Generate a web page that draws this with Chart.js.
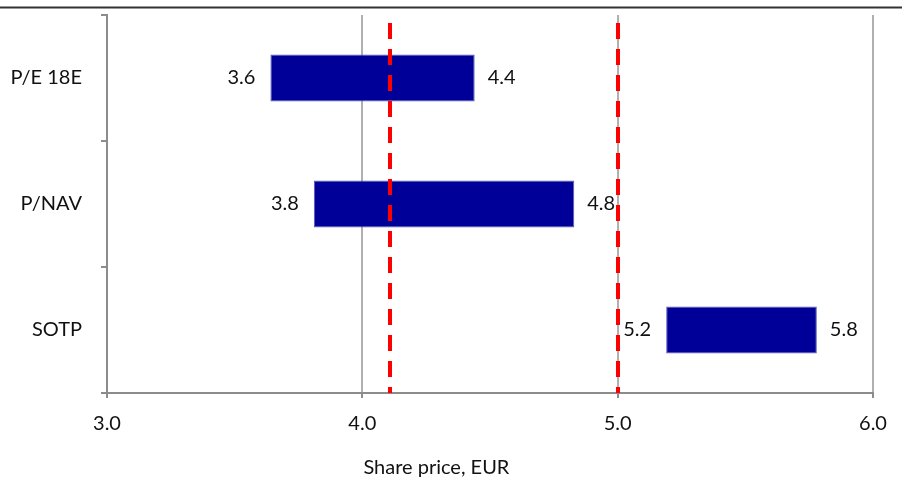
<!DOCTYPE html>
<html>
<head>
<meta charset="utf-8">
<script src="https://cdn.jsdelivr.net/npm/chart.js@4/dist/chart.umd.min.js"></script>
<style>
  html, body { margin: 0; padding: 0; background: #fff; }
  #wrap { width: 902px; height: 480px; position: relative; }
</style>
</head>
<body>
<div id="wrap"><canvas id="c" width="902" height="480"></canvas></div>
<script>
// ---- data ----
const categories = ["P/E 18E", "P/NAV", "SOTP"];
const lowValues  = [3.64, 3.81, 5.19];
const highValues = [4.44, 4.83, 5.78];
const refLines   = [4.11, 5.0];
const xTicks     = [3.0, 4.0, 5.0, 6.0];

const FONT = "Lato, 'Open Sans', sans-serif";
const TEXT = "#111111";

const ranges = categories.map((c, i) => [lowValues[i], highValues[i]]);

const topLinePlugin = {
  id: 'topLine',
  beforeDraw(chart) {
    const ctx = chart.ctx;
    ctx.save();
    ctx.strokeStyle = '#333333';
    ctx.lineWidth = 2;
    ctx.beginPath();
    ctx.moveTo(0, 7.5);
    ctx.lineTo(chart.width, 7.5);
    ctx.stroke();
    ctx.restore();
  }
};

const refLinePlugin = {
  id: 'refLines',
  afterDatasetsDraw(chart) {
    const ctx = chart.ctx, x = chart.scales.x, a = chart.chartArea;
    ctx.save();
    ctx.strokeStyle = '#ff0000';
    ctx.lineWidth = 4;
    ctx.setLineDash([16, 10]);
    refLines.forEach(v => {
      const px = Math.round(x.getPixelForValue(v));
      ctx.beginPath();
      ctx.moveTo(px, a.top + 8);
      ctx.lineTo(px, a.bottom);
      ctx.stroke();
    });
    ctx.restore();
  }
};

const labelPlugin = {
  id: 'barLabels',
  afterDraw(chart) {
    const ctx = chart.ctx, x = chart.scales.x, y = chart.scales.y;
    ctx.save();
    ctx.font = "20px " + FONT;
    ctx.fillStyle = TEXT;
    ctx.textBaseline = 'middle';
    categories.forEach((c, i) => {
      const cy = y.getPixelForValue(i);
      ctx.textAlign = 'right';
      ctx.fillText(lowValues[i].toFixed(1), x.getPixelForValue(lowValues[i]) - 15, cy);
      ctx.textAlign = 'left';
      ctx.fillText(highValues[i].toFixed(1), x.getPixelForValue(highValues[i]) + 13, cy);
    });
    // axis title
    const a = chart.chartArea;
    ctx.textAlign = 'center';
    ctx.textBaseline = 'alphabetic';
    ctx.fillText("Share price, EUR", a.left + a.width * 0.43, 474);
    ctx.restore();
  }
};

new Chart(document.getElementById('c'), {
  type: 'bar',
  data: {
    labels: categories,
    datasets: [{
      data: ranges,
      backgroundColor: '#000099',
      borderColor: '#5a5ab8',
      borderWidth: 1,
      borderSkipped: false,
      barPercentage: 0.373,
      categoryPercentage: 1.0
    }]
  },
  options: {
    indexAxis: 'y',
    responsive: false,
    animation: false,
    devicePixelRatio: 1,
    layout: { padding: { left: 0, right: 29, top: 15, bottom: 43 } },
    plugins: {
      legend: { display: false },
      tooltip: { enabled: false }
    },
    scales: {
      x: {
        type: 'linear',
        min: 3, max: 6,
        afterBuildTicks(scale) { scale.ticks = xTicks.map(v => ({ value: v })); },
        afterFit(scale) { scale.height = 44; },
        ticks: {
          callback: v => Number(v).toFixed(1),
          font: { family: FONT, size: 20 },
          color: TEXT,
          padding: 14,
          maxRotation: 0
        },
        grid: {
          color: '#b0b0b0',
          lineWidth: 2,
          drawTicks: true,
          tickLength: 5,
          tickColor: '#8c8c8c'
        },
        border: { display: true, color: '#8c8c8c', width: 2 }
      },
      y: {
        type: 'category',
        offset: true,
        afterFit(scale) { scale.width = 107; scale.paddingTop = 0; scale.paddingBottom = 0; },
        ticks: {
          font: { family: FONT, size: 20 },
          color: TEXT,
          padding: 19
        },
        grid: {
          offset: true,
          drawOnChartArea: false,
          drawTicks: true,
          tickLength: 6,
          tickColor: '#8c8c8c',
          lineWidth: 2
        },
        border: { display: true, color: '#8c8c8c', width: 2 }
      }
    }
  },
  plugins: [topLinePlugin, refLinePlugin, labelPlugin]
});
</script>
</body>
</html>
